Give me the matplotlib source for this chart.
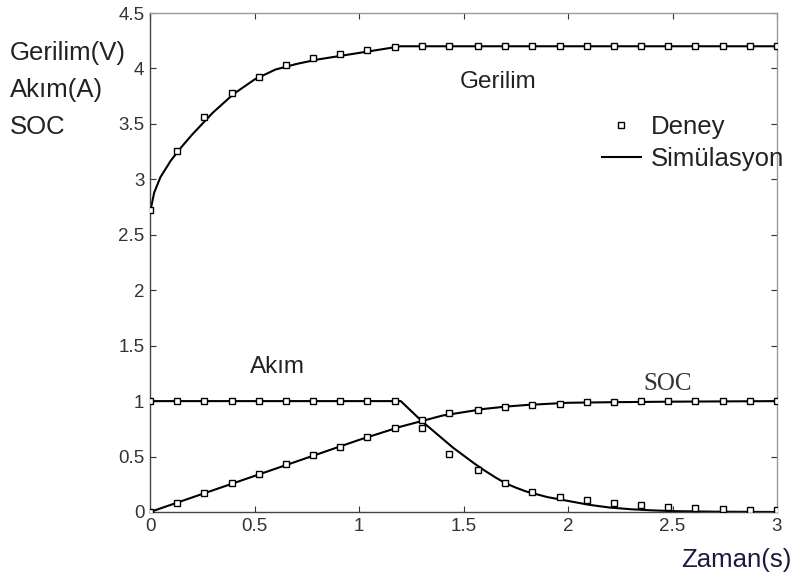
import matplotlib
matplotlib.use("Agg")
import matplotlib.pyplot as plt
from matplotlib.lines import Line2D

# ---- data ----
t_exp = [0, 0.13, 0.26, 0.39, 0.52, 0.65, 0.78, 0.91, 1.04, 1.17, 1.30, 1.43,
         1.57, 1.70, 1.83, 1.96, 2.09, 2.22, 2.35, 2.48, 2.61, 2.74, 2.87, 3.0]
v_exp = [2.72, 3.26, 3.56, 3.775, 3.925, 4.03, 4.09, 4.13, 4.165, 4.195, 4.2, 4.2,
         4.2, 4.2, 4.2, 4.2, 4.2, 4.2, 4.2, 4.2, 4.2, 4.2, 4.2, 4.2]
i_exp = [1.0, 1.0, 1.0, 1.0, 1.0, 1.0, 1.0, 1.0, 1.0, 1.0, 0.757, 0.525,
         0.379, 0.264, 0.183, 0.138, 0.108, 0.078, 0.06, 0.045, 0.035, 0.025, 0.02, 0.02]
soc_exp = [0, 0.084, 0.174, 0.258, 0.343, 0.43, 0.514, 0.589, 0.673, 0.755, 0.83, 0.89,
           0.92, 0.944, 0.965, 0.974, 0.989, 0.995, 1.0, 1.0, 1.0, 1.0, 1.0, 1.0]

t_v_sim = [0, 0.02, 0.05, 0.1, 0.15, 0.2, 0.3, 0.4, 0.5, 0.6, 0.7, 0.8, 0.9, 1.0, 1.1, 1.2, 3.0]
v_sim = [2.70, 2.88, 3.02, 3.17, 3.29, 3.40, 3.60, 3.77, 3.90, 3.99, 4.04, 4.08, 4.11, 4.14, 4.17, 4.2, 4.2]

t_i_sim = [0, 1.2, 1.25, 1.3, 1.35, 1.4, 1.45, 1.5, 1.55, 1.6, 1.65, 1.7, 1.75, 1.8,
           1.9, 2.0, 2.1, 2.2, 2.3, 2.4, 2.5, 2.7, 3.0]
i_sim = [1.0, 1.0, 0.91, 0.82, 0.74, 0.66, 0.58, 0.51, 0.44, 0.375, 0.315, 0.26, 0.22, 0.185,
         0.135, 0.10, 0.065, 0.04, 0.025, 0.015, 0.008, 0.003, 0.0]

t_s_sim = [0, 0.2, 0.4, 0.6, 0.8, 1.0, 1.2, 1.3, 1.4, 1.5, 1.6, 1.7, 1.8, 1.9, 2.0, 2.2, 2.5, 3.0]
soc_sim = [0, 0.13, 0.26, 0.39, 0.52, 0.65, 0.77, 0.82, 0.87, 0.90, 0.93, 0.95, 0.965, 0.975, 0.985, 0.99, 0.995, 1.0]

xticks = [0, 0.5, 1, 1.5, 2, 2.5, 3]
xticklabels = ["0", "0.5", "1", "1.5", "2", "2.5", "3"]
yticks = [0, 0.5, 1, 1.5, 2, 2.5, 3, 3.5, 4, 4.5]
yticklabels = ["0", "0.5", "1", "1.5", "2", "2.5", "3", "3.5", "4", "4.5"]

plt.rcParams['font.family'] = ['Liberation Sans', 'DejaVu Sans']

fig = plt.figure(figsize=(7.95, 5.75), dpi=100)
ax = fig.add_axes([150/795, 1-512/575, 627/795, 499/575])

lw = 1.5
ms = 4.5
ax.plot(t_v_sim, v_sim, color='black', lw=lw, zorder=2)
ax.plot(t_i_sim, i_sim, color='black', lw=lw, zorder=2)
ax.plot(t_s_sim, soc_sim, color='black', lw=lw, zorder=2)
mk = dict(ls='none', marker='s', ms=ms, mfc='white', mec='black', mew=1.0, zorder=3)
ax.plot(t_exp, v_exp, **mk)
ax.plot(t_exp, i_exp, **mk)
ax.plot(t_exp, soc_exp, **mk)

ax.set_xlim(0, 3)
ax.set_ylim(0, 4.5)
ax.set_xticks(xticks)
ax.set_xticklabels(xticklabels)
ax.set_yticks(yticks)
ax.set_yticklabels(yticklabels)
ax.tick_params(direction='in', length=4, width=0.8, top=True, right=True,
               labelsize=13.5, colors='#333333', labelcolor='#333333', pad=4)
for side, sp in ax.spines.items():
    sp.set_color('#444444' if side in ('left', 'bottom') else '#999999')
    sp.set_linewidth(1.0)

txtc = '#222222'
fs = 18.5
fig.text(10/795, 1-53/575, "Gerilim(V)", fontsize=fs, color=txtc, va='center', ha='left')
fig.text(10/795, 1-90/575, "Akım(A)", fontsize=fs, color=txtc, va='center', ha='left')
fig.text(10/795, 1-127/575, "SOC", fontsize=fs, color=txtc, va='center', ha='left')
fig.text(791/795, 1-560/575, "Zaman(s)", fontsize=fs, color='#1a1a40', va='center', ha='right')

ax.text(1.48, 3.88, "Gerilim", fontsize=17.5, color=txtc, va='center', ha='left')
ax.text(0.48, 1.31, "Akım", fontsize=17.5, color=txtc, va='center', ha='left')
ax.text(2.36, 1.15, "SOC", fontsize=18, color='#333333', va='center', ha='left',
        family='Liberation Serif')

# legend
h1 = Line2D([], [], ls='none', marker='s', ms=4, mfc='white', mec='black', mew=1.0)
h2 = Line2D([], [], color='black', lw=lw)
leg = ax.legend([h1, h2], ["Deney", "Simülasyon"], loc='upper left',
                bbox_to_anchor=(452/627, 1-102/499), frameon=False, fontsize=18.5,
                handlelength=1.5, handletextpad=0.4, labelspacing=0.3,
                borderaxespad=0, borderpad=0)
for t in leg.get_texts():
    t.set_color(txtc)

fig.savefig("out.png", dpi=100, facecolor='white')
